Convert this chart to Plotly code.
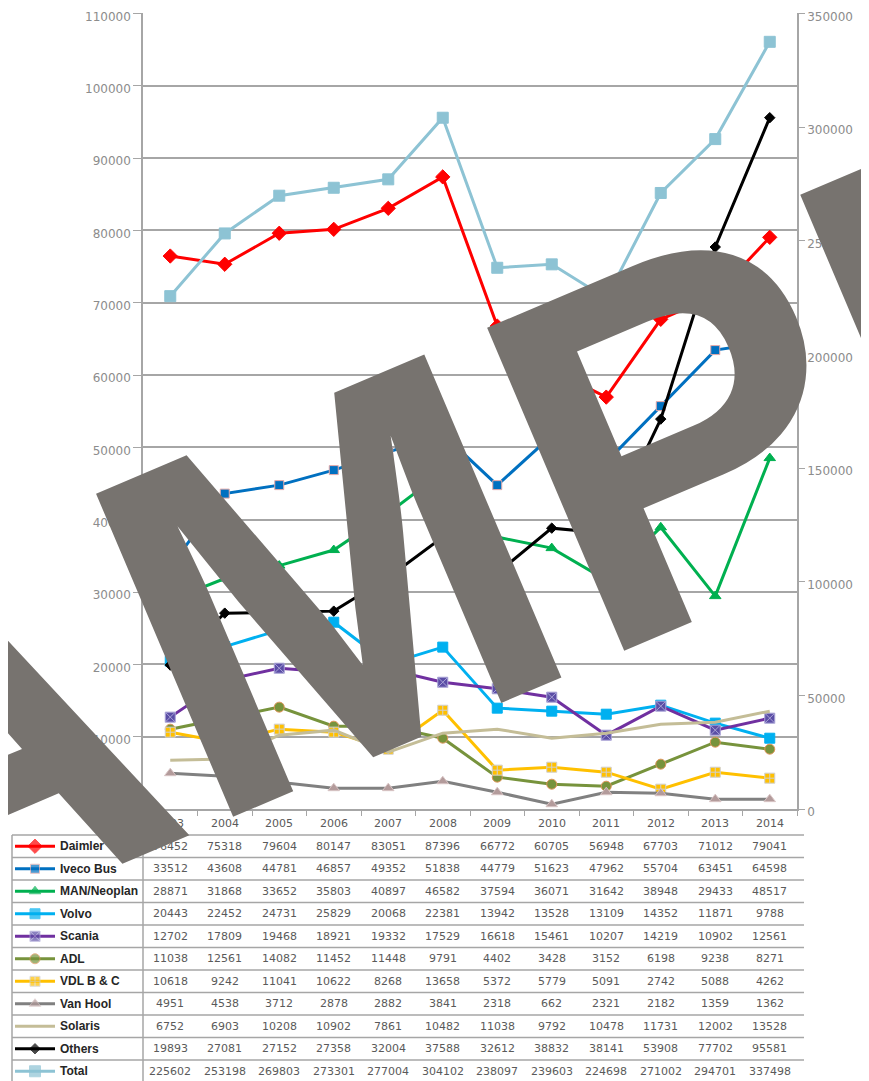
import plotly.graph_objects as go

# ---------------- data ----------------
years = ["2003", "2004", "2005", "2006", "2007", "2008",
         "2009", "2010", "2011", "2012", "2013", "2014"]

daimler = [76452, 75318, 79604, 80147, 83051, 87396, 66772, 60705, 56948, 67703, 71012, 79041]
iveco   = [33512, 43608, 44781, 46857, 49352, 51838, 44779, 51623, 47962, 55704, 63451, 64598]
man     = [28871, 31868, 33652, 35803, 40897, 46582, 37594, 36071, 31642, 38948, 29433, 48517]
volvo   = [20443, 22452, 24731, 25829, 20068, 22381, 13942, 13528, 13109, 14352, 11871, 9788]
scania  = [12702, 17809, 19468, 18921, 19332, 17529, 16618, 15461, 10207, 14219, 10902, 12561]
adl     = [11038, 12561, 14082, 11452, 11448, 9791, 4402, 3428, 3152, 6198, 9238, 8271]
vdl     = [10618, 9242, 11041, 10622, 8268, 13658, 5372, 5779, 5091, 2742, 5088, 4262]
vanhool = [4951, 4538, 3712, 2878, 2882, 3841, 2318, 662, 2321, 2182, 1359, 1362]
solaris = [6752, 6903, 10208, 10902, 7861, 10482, 11038, 9792, 10478, 11731, 12002, 13528]
others  = [19893, 27081, 27152, 27358, 32004, 37588, 32612, 38832, 38141, 53908, 77702, 95581]
total   = [225602, 253198, 269803, 273301, 277004, 304102, 238097, 239603, 224698, 271002, 294701, 337498]

names = ["Daimler", "Iveco Bus", "MAN/Neoplan", "Volvo", "Scania", "ADL",
         "VDL B & C", "Van Hool", "Solaris", "Others", "Total"]
values = [daimler, iveco, man, volvo, scania, adl, vdl, vanhool, solaris, others, total]

left_ticks = list(range(0, 110001, 10000))
right_ticks = list(range(0, 350001, 50000))

# ---------------- styles ----------------
styles = [
    dict(color="#ff0000", symbol="diamond", size=11, mcolor="#ff0000", lcolor="#ff0000"),
    dict(color="#0070c0", symbol="square", size=9, mcolor="#0070c0", lcolor="#e6a9a8"),
    dict(color="#00b050", symbol="triangle-up", size=10, mcolor="#00b050", lcolor="#00b050"),
    dict(color="#00b0f0", symbol="square", size=10, mcolor="#00b0f0", lcolor="#00b0f0"),
    dict(color="#7030a0", symbol="square-x", size=10, mcolor="#5b4ea6", lcolor="#a9a3d6"),
    dict(color="#77933c", symbol="circle", size=10, mcolor="#77933c", lcolor="#e0955a"),
    dict(color="#ffc000", symbol="square-cross", size=10, mcolor="#ffc000", lcolor="#d0d0d0"),
    dict(color="#808080", symbol="triangle-up", size=10, mcolor="#b39b9b", lcolor="#d8c4c4"),
    dict(color="#c4bd97", symbol=None, size=0, mcolor="#c4bd97", lcolor="#c4bd97"),
    dict(color="#000000", symbol="diamond", size=8, mcolor="#000000", lcolor="#000000"),
    dict(color="#8dc3d4", symbol="square", size=11, mcolor="#8dc3d4", lcolor="#8dc3d4"),
]

# window geometry (the page body has an 8px margin, so the figure is offset)
WIN_W, WIN_H = 869, 1081
OFF = 8
W, H = WIN_W - OFF, WIN_H - OFF
PL, PR, PT, PB = 143, 797, 13.4, 809   # plot area in window pixels
GRID = "#a6a6a6"
TICKFONT = dict(family="DejaVu Sans", size=12, color="#8c8c8c")
CELLFONT = dict(family="DejaVu Sans", size=11, color="#5a5a5a")


def fx(px):
    return (px - OFF) / W


def fy(py):
    return 1 - (py - OFF) / H


fig = go.Figure()

for i, (name, vals, st) in enumerate(zip(names, values, styles)):
    on_right = name == "Total"
    mode = "lines" if st["symbol"] is None else "lines+markers"
    tr = dict(x=years, y=vals, name=name, mode=mode,
              line=dict(color=st["color"], width=3),
              showlegend=False, cliponaxis=False,
              xaxis="x", yaxis="y2" if on_right else "y")
    if st["symbol"] is not None:
        tr["marker"] = dict(symbol=st["symbol"], size=st["size"], color=st["mcolor"],
                            line=dict(color=st["lcolor"], width=1))
    fig.add_trace(go.Scatter(**tr))

# ---------------- data table (below the chart) ----------------
ROW0 = 835.0
ROWH = 22.5
TABLE_L, TABLE_R = 12, 804
row_centers = [ROW0 + ROWH * (k + 0.5) for k in range(len(names))]

shapes = []
for k in range(len(names) + 1):
    yy = ROW0 + ROWH * k
    if yy > WIN_H:
        break
    shapes.append(dict(type="line", xref="x3", yref="y3", x0=TABLE_L, x1=TABLE_R,
                       y0=yy, y1=yy, line=dict(color=GRID, width=1.5)))
shapes.append(dict(type="line", xref="x3", yref="y3", x0=TABLE_L, x1=TABLE_L,
                   y0=ROW0, y1=WIN_H, line=dict(color=GRID, width=1.5)))
shapes.append(dict(type="line", xref="x3", yref="y3", x0=PL, x1=PL,
                   y0=PB, y1=WIN_H, line=dict(color=GRID, width=1.5)))

annotations = []
# header row: categories
for i, yr in enumerate(years):
    annotations.append(dict(x=i, y=fy((PB + ROW0) / 2 + 1), xref="x", yref="paper",
                            xanchor="center", yanchor="middle",
                            text=yr, showarrow=False, font=CELLFONT))
# legend keys + values
for k, (name, vals, st) in enumerate(zip(names, values, styles)):
    yc = row_centers[k]
    msize = [0, st["size"], 0] if st["symbol"] else [0, 0, 0]
    fig.add_trace(go.Scatter(
        x=[15, 35, 55], y=[yc, yc, yc], mode="lines+markers",
        line=dict(color=st["color"], width=3),
        marker=dict(symbol=st["symbol"] or "circle", size=msize, color=st["mcolor"],
                    line=dict(color=st["lcolor"], width=1)),
        showlegend=False, hoverinfo="skip", cliponaxis=False,
        xaxis="x3", yaxis="y3"))
    annotations.append(dict(x=58, y=yc, xref="x3", yref="y3", xanchor="left",
                            yanchor="middle",
                            text="<b>%s</b>" % name, showarrow=False,
                            font=dict(family="Liberation Sans", size=12, color="#262626")))
    for i, v in enumerate(vals):
        annotations.append(dict(x=i, y=fy(yc), xref="x", yref="paper", text=str(v),
                                xanchor="center", yanchor="middle",
                                showarrow=False, font=CELLFONT))

# watermark
annotations.append(dict(x=fx(458), y=fy(529), xref="paper", yref="paper",
                        text="SAMPLE", showarrow=False, textangle=-23,
                        xanchor="center", yanchor="middle",
                        font=dict(family="Liberation Sans", size=510, color="#77736f",
                                  weight="bold")))

fig.update_layout(
    width=W, height=H,
    margin=dict(l=0, r=0, t=0, b=0, autoexpand=False),
    paper_bgcolor="white", plot_bgcolor="white",
    showlegend=False,
    xaxis=dict(domain=[fx(PL), fx(PR)], type="category", range=[-0.5, 11.5],
               showline=True, linecolor=GRID, linewidth=1.5,
               ticks="outside", tickson="boundaries", ticklen=5, tickcolor=GRID,
               showticklabels=False, showgrid=False, zeroline=False, anchor="y",
               automargin=False),
    yaxis=dict(domain=[fy(PB), fy(PT)], range=[0, 110000],
               tickvals=left_ticks, ticktext=[str(t) for t in left_ticks],
               showline=True, linecolor=GRID, linewidth=1.5,
               ticks="outside", ticklen=8, tickcolor=GRID,
               showgrid=True, gridcolor=GRID, gridwidth=1.5, zeroline=False,
               tickfont=TICKFONT, ticklabeloverflow="allow", ticklabelshift=3,
               anchor="x", automargin=False),
    yaxis2=dict(overlaying="y", side="right", range=[0, 350000],
                tickvals=right_ticks, ticktext=[str(t) for t in right_ticks],
                showline=True, linecolor=GRID, linewidth=1.5,
                ticks="outside", ticklen=6, tickcolor=GRID,
                showgrid=False, zeroline=False,
                tickfont=TICKFONT, ticklabeloverflow="allow", ticklabelshift=3,
                anchor="x", automargin=False),
    xaxis3=dict(domain=[0, 1], range=[OFF, WIN_W], visible=False, anchor="y3",
                fixedrange=True, automargin=False),
    yaxis3=dict(domain=[0, fy(PB)], range=[WIN_H, PB], visible=False, anchor="x3",
                fixedrange=True, automargin=False),
    shapes=shapes,
    annotations=annotations,
)

fig.write_html("out.html")
